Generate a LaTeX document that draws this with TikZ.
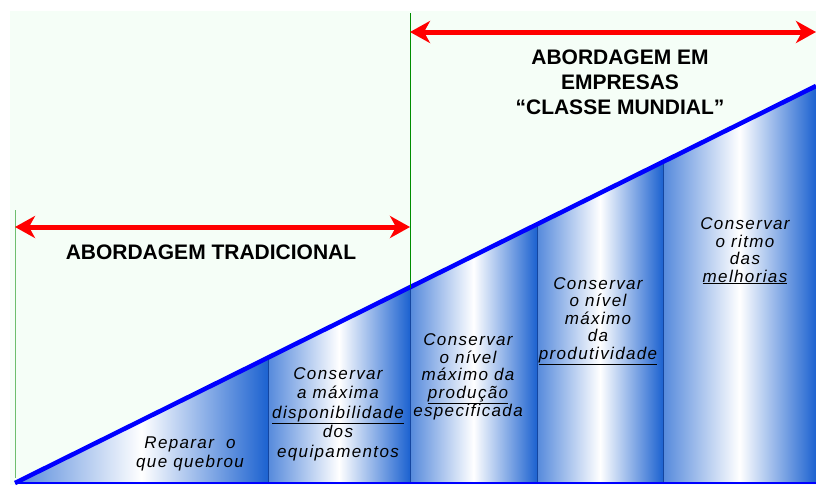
\documentclass[tikz,border=0pt]{standalone}
\usepackage{fontspec}
\setmainfont{Liberation Sans}
\newfontfamily\colfont[LetterSpace=8]{Liberation Sans}
\usetikzlibrary{arrows.meta,positioning}
\definecolor{mypalegreen}{RGB}{245,254,247}
\definecolor{mycolblue}{RGB}{28,98,208}
\definecolor{mysepblue}{RGB}{20,70,160}
\definecolor{mygreen}{RGB}{0,140,0}
\definecolor{mylightgreen}{RGB}{110,190,110}
\tikzstyle{coltext}=[font=\colfont\itshape\fontsize{17}{17.5}\selectfont,align=center,inner sep=0pt]
\tikzstyle{coltextwide}=[coltext,font=\colfont\itshape\fontsize{17}{19.5}\selectfont]
\tikzstyle{headtext}=[font=\bfseries\fontsize{21}{25}\selectfont,align=center,inner sep=0pt]
\tikzstyle{redarrow}=[draw=red,line width=5pt,{Stealth[length=20pt,width=22pt,inset=6pt]}-{Stealth[length=20pt,width=22pt,inset=6pt]}]

\begin{document}
\begin{tikzpicture}[x=1pt,y=-1pt]
\useasboundingbox (0,0) rectangle (816,485);
\fill[mypalegreen] (10,11) rectangle (816,485);
% the rising wedge
\coordinate (lo) at (15,483);
\coordinate (hi) at (816,86);
\coordinate (br) at (816,483);
\begin{scope}
\clip (lo) -- (hi) -- (br) -- cycle;
\foreach \xa/\xb in {15/268,268/410,410/537,537/663,663/816}
  \shade[left color=mycolblue!75,right color=mycolblue,middle color=white] (\xa,483) rectangle (\xb,80);
\foreach \xs in {268,410,537,663}
  \draw[mysepblue,line width=0.8pt] (\xs,483) -- (\xs,80);
\end{scope}
\draw[blue,line width=4.5pt] (lo) -- (hi);
\draw[blue,line width=1.5pt] (lo) -- (br);
% green limits
\coordinate (gl1) at (15,210);
\coordinate (gl2) at (15,478);
\coordinate (gr1) at (410,13);
\coordinate (gr2) at (410,288);
\draw[mylightgreen,line width=1pt] (gl1) -- (gl2);
\draw[mygreen,line width=1pt] (gr1) -- (gr2);
% red spans
\coordinate (tradl) at (15,227);
\coordinate (tradr) at (410,227);
\coordinate (wcl) at (410,32);
\coordinate (wcr) at (816,32);
\draw[redarrow] (tradl) -- (tradr);
\draw[redarrow] (wcl) -- (wcr);
% headings
\node[headtext] (trad) at (211,252) {ABORDAGEM TRADICIONAL};
\node[headtext] (world) at (620,82) {ABORDAGEM EM\\EMPRESAS\\“CLASSE MUNDIAL”};
% column texts
\node[coltextwide] (repair) at (190,454) {Reparar\ \ o\\que quebrou};
\node[coltextwide] (avail) at (338,414) {Conservar\\a máxima\\\underline{disponibilidade}\\dos\\equipamentos};
\node[coltext] (prod) at (468,377) {Conservar\\o nível\\máximo da\\\underline{produção}\\especificada};
\node[coltext] (produt) at (598,321) {Conservar\\o nível\\máximo\\da\\\underline{produtividade}};
\node[coltext] (rhythm) at (745,251) {Conservar\\o ritmo\\das\\\underline{melhorias}};
\end{tikzpicture}
\end{document}
